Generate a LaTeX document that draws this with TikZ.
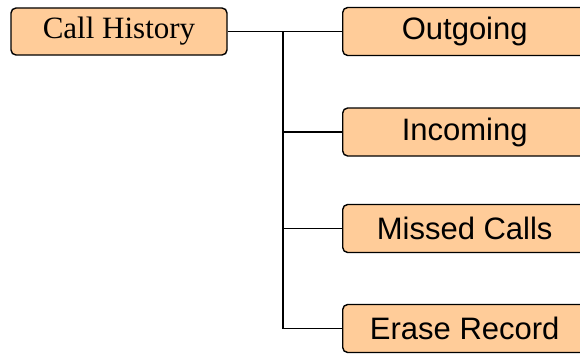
\documentclass[tikz,border=0pt]{standalone}
\usepackage{fontspec}
\setmainfont{Liberation Serif}
\newfontfamily\armfont{Liberation Sans}
\definecolor{peach}{RGB}{255,204,153}
\tikzset{
    menubox/.style={draw=black, fill=peach, rounded corners=5pt, line width=1.4pt,
        inner sep=0pt, minimum height=48pt},
    subbox/.style={menubox, minimum width=244pt, anchor=west, font=\armfont\fontsize{31}{36}\selectfont}
}
\begin{document}
\begin{tikzpicture}[x=1pt, y=-1pt, line width=1.4pt]
    \useasboundingbox (0,0) rectangle (580,353);
    % Root
    \node[menubox, minimum width=216pt, minimum height=47pt, font=\fontsize{31}{36}\selectfont]
        (hist) at (119,31.5) {Call History};
    % Menu entries
    \node[subbox] (out) at (342,31.5) {Outgoing};
    \node[subbox] (inc) at (342,132) {Incoming};
    \node[subbox] (mis) at (342,228.5) {Missed Calls};
    \node[subbox] (era) at (342,328.5) {Erase Record};
    % Tree lines
    \coordinate (j) at (283,31.5);
    \draw (hist.east) -- (out.west);
    \draw (j) |- (inc.west);
    \draw (j) |- (mis.west);
    \draw (j) |- (era.west);
\end{tikzpicture}
\end{document}
